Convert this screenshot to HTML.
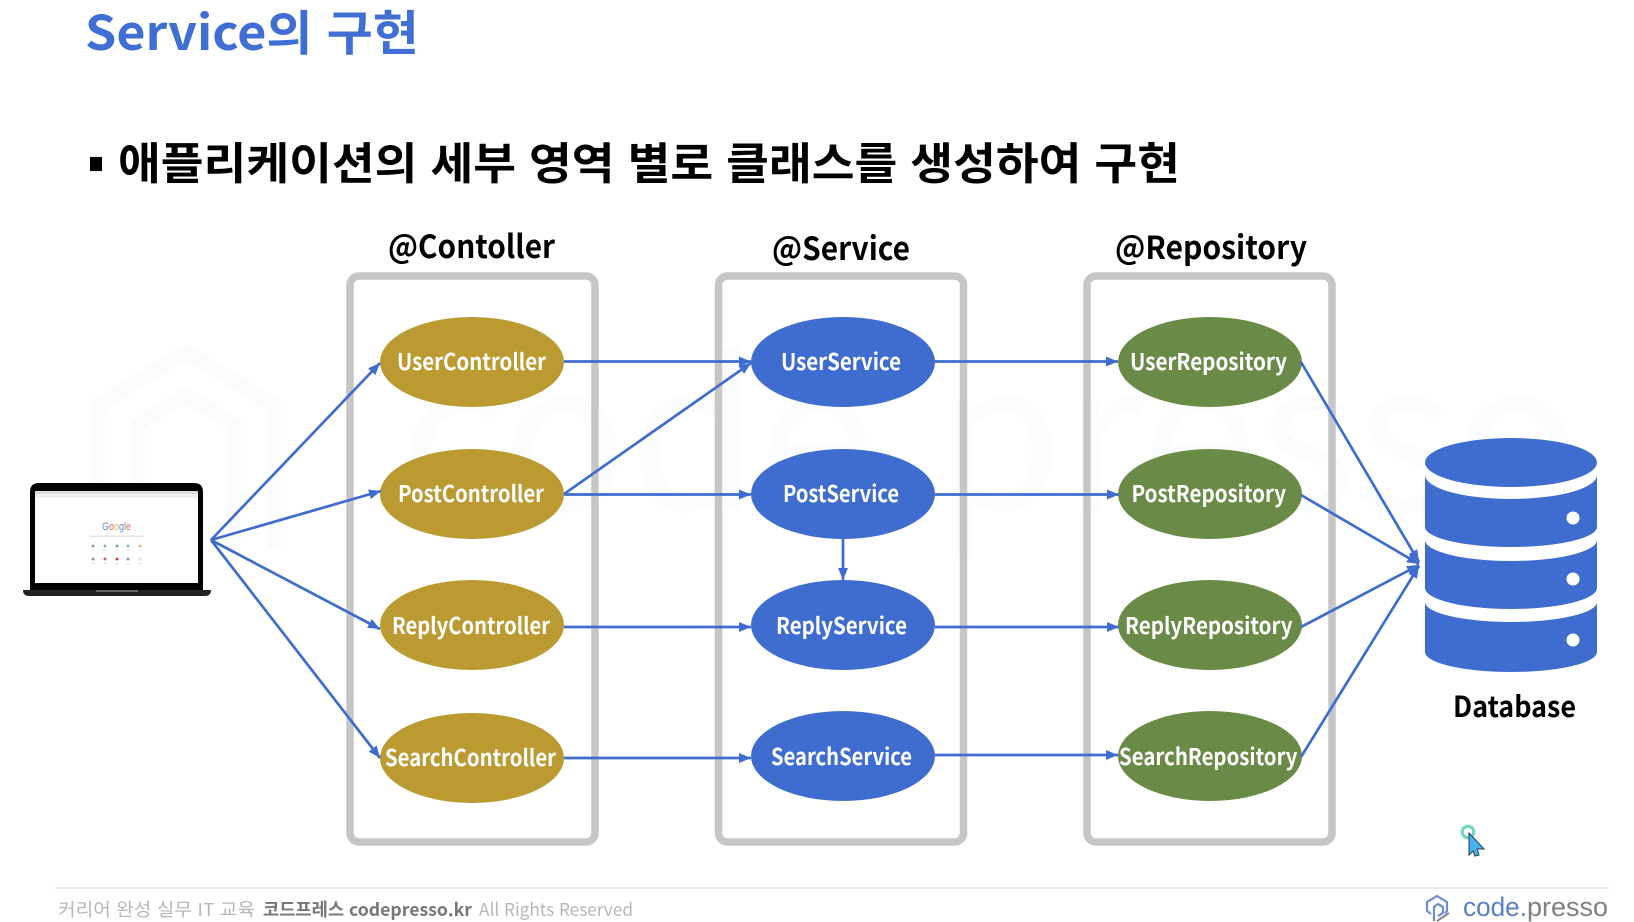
<!DOCTYPE html>
<html lang="ko">
<head>
<meta charset="utf-8">
<title>Service의 구현</title>
<style>
html,body{margin:0;padding:0;background:#fff;width:1634px;height:922px;overflow:hidden}
svg{display:block;filter:blur(0.35px)}
text{font-family:"Noto Sans CJK KR","Liberation Sans",sans-serif}
.b{font-weight:700}
.n{font-weight:700;font-size:23px;fill:#fff}
.h{font-weight:700;font-size:32px;fill:#000}
.l{font-family:"Liberation Sans",sans-serif;font-size:27px}
</style>
</head>
<body>
<svg width="1634" height="922" viewBox="0 0 1634 922" xmlns="http://www.w3.org/2000/svg">
<defs>
<marker id="a" markerUnits="userSpaceOnUse" markerWidth="14" markerHeight="12" refX="12" refY="5" orient="auto">
<path d="M0 0L12 5L0 10z" fill="#3f6dcf"/>
</marker>
</defs>
<rect width="1634" height="922" fill="#fff"/>

<!-- watermark -->
<g fill="none" stroke="#fafbfd" stroke-width="14">
<path d="M98 548V405L186 352L274 405V548"/>
<path d="M138 540V425L186 395L234 425V540"/>
</g>
<text x="400" y="510" font-size="205" fill="#fbfcfd" textLength="1180" lengthAdjust="spacingAndGlyphs">code presso</text>

<!-- title -->
<text class="b" x="85" y="50" font-size="48" fill="#3f6fd4" textLength="334" lengthAdjust="spacingAndGlyphs">Service의 구현</text>
<rect x="90" y="157" width="12" height="14" fill="#000"/>
<text class="b" x="118" y="179" font-size="44" fill="#000" textLength="1062" lengthAdjust="spacingAndGlyphs">애플리케이션의 세부 영역 별로 클래스를 생성하여 구현</text>

<!-- column titles -->
<text class="h" x="388" y="258" textLength="167" lengthAdjust="spacingAndGlyphs">@Contoller</text>
<text class="h" x="772" y="260" textLength="138" lengthAdjust="spacingAndGlyphs">@Service</text>
<text class="h" x="1115" y="259" textLength="192" lengthAdjust="spacingAndGlyphs">@Repository</text>

<!-- frames -->
<g fill="none" stroke="#c6c6c6" stroke-width="7.5">
<rect x="350" y="276" width="245" height="566" rx="9"/>
<rect x="718.5" y="276" width="245" height="566" rx="9"/>
<rect x="1087" y="276" width="245" height="566" rx="9"/>
</g>

<!-- ellipses -->
<g fill="#bc9a32">
<ellipse cx="472" cy="362" rx="92" ry="45"/>
<ellipse cx="472" cy="494" rx="92" ry="45"/>
<ellipse cx="472" cy="625" rx="92" ry="45"/>
<ellipse cx="472" cy="758" rx="92" ry="45"/>
</g>
<g fill="#3f6dcf">
<ellipse cx="843" cy="362" rx="92" ry="45"/>
<ellipse cx="843" cy="494" rx="92" ry="45"/>
<ellipse cx="843" cy="625" rx="92" ry="45"/>
<ellipse cx="843" cy="756" rx="92" ry="45"/>
</g>
<g fill="#6a8b47">
<ellipse cx="1210" cy="362" rx="92" ry="45"/>
<ellipse cx="1210" cy="494" rx="92" ry="45"/>
<ellipse cx="1210" cy="625" rx="92" ry="45"/>
<ellipse cx="1210" cy="756" rx="92" ry="45"/>
</g>

<!-- connectors -->
<g stroke="#3f6dcf" stroke-width="2.7" fill="none">
<line x1="211" y1="540" x2="380" y2="363" marker-end="url(#a)"/>
<line x1="211" y1="540" x2="381" y2="491" marker-end="url(#a)"/>
<line x1="211" y1="540" x2="380" y2="629" marker-end="url(#a)"/>
<line x1="211" y1="540" x2="380" y2="758" marker-end="url(#a)"/>
<line x1="564" y1="361.5" x2="751" y2="361.5" marker-end="url(#a)"/>
<line x1="564" y1="494" x2="751" y2="363" marker-end="url(#a)"/>
<line x1="564" y1="494.5" x2="751" y2="494.5" marker-end="url(#a)"/>
<line x1="564" y1="627" x2="751" y2="627" marker-end="url(#a)"/>
<line x1="564" y1="758" x2="751" y2="758" marker-end="url(#a)"/>
<line x1="935" y1="361.5" x2="1118" y2="361.5" marker-end="url(#a)"/>
<line x1="935" y1="494.5" x2="1119" y2="494.5" marker-end="url(#a)"/>
<line x1="935" y1="627" x2="1119" y2="627" marker-end="url(#a)"/>
<line x1="935" y1="755" x2="1118" y2="755" marker-end="url(#a)"/>
<line x1="843" y1="538" x2="843" y2="580" marker-end="url(#a)"/>
<line x1="1301" y1="362" x2="1419" y2="562" marker-end="url(#a)"/>
<line x1="1301" y1="495" x2="1419" y2="564" marker-end="url(#a)"/>
<line x1="1301" y1="627" x2="1419" y2="565" marker-end="url(#a)"/>
<line x1="1301" y1="757" x2="1419" y2="566" marker-end="url(#a)"/>
</g>

<!-- node labels -->
<text class="n" x="397" y="370" textLength="149" lengthAdjust="spacingAndGlyphs">UserController</text>
<text class="n" x="398" y="502" textLength="146" lengthAdjust="spacingAndGlyphs">PostController</text>
<text class="n" x="392" y="634" textLength="158" lengthAdjust="spacingAndGlyphs">ReplyController</text>
<text class="n" x="385" y="766" textLength="171" lengthAdjust="spacingAndGlyphs">SearchController</text>
<text class="n" x="781" y="370" textLength="120" lengthAdjust="spacingAndGlyphs">UserService</text>
<text class="n" x="783" y="502" textLength="116" lengthAdjust="spacingAndGlyphs">PostService</text>
<text class="n" x="776" y="634" textLength="131" lengthAdjust="spacingAndGlyphs">ReplyService</text>
<text class="n" x="771" y="765" textLength="141" lengthAdjust="spacingAndGlyphs">SearchService</text>
<text class="n" x="1130" y="370" textLength="157" lengthAdjust="spacingAndGlyphs">UserRepository</text>
<text class="n" x="1131.5" y="502" textLength="154.5" lengthAdjust="spacingAndGlyphs">PostRepository</text>
<text class="n" x="1125" y="634" textLength="167.5" lengthAdjust="spacingAndGlyphs">ReplyRepository</text>
<text class="n" x="1119" y="765" textLength="178.5" lengthAdjust="spacingAndGlyphs">SearchRepository</text>

<!-- database -->
<g fill="#3f6dcf">
<ellipse cx="1511" cy="462.5" rx="86" ry="24.5"/>
<path d="M1425 475A86 24 0 0 0 1597 475V527A86 20 0 0 1 1425 527Z"/>
<path d="M1425 540A86 21 0 0 0 1597 540V588A86 21 0 0 1 1425 588Z"/>
<path d="M1425 602A86 20 0 0 0 1597 602V652A86 20 0 0 1 1425 652Z"/>
</g>
<g fill="#fff">
<circle cx="1573" cy="518" r="6.5"/>
<circle cx="1573" cy="579" r="6.5"/>
<circle cx="1573" cy="640" r="6.5"/>
</g>
<text class="b" x="1453" y="717" font-size="29" fill="#000" textLength="123" lengthAdjust="spacingAndGlyphs">Database</text>

<!-- laptop -->
<path d="M30 591V492Q30 483 39 483H194Q203 483 203 492V591Z" fill="#000"/>
<path d="M23 590H211Q211 596 205 596H29Q23 596 23 590Z" fill="#222"/>
<rect x="96" y="590" width="42" height="2" fill="#666"/>
<rect x="35" y="491" width="163" height="92" fill="#fff"/>
<rect x="35" y="491" width="163" height="3" fill="#dcdcdc"/>
<rect x="35" y="494" width="163" height="4" fill="#f1f1f1"/>
<text x="102" y="530" font-size="11" textLength="29" lengthAdjust="spacingAndGlyphs" style="font-family:'Liberation Sans',sans-serif"><tspan fill="#5f8ad8">G</tspan><tspan fill="#d9665a">o</tspan><tspan fill="#e3b94f">o</tspan><tspan fill="#5f8ad8">g</tspan><tspan fill="#62a86c">l</tspan><tspan fill="#d9665a">e</tspan></text>
<rect x="90" y="535.5" width="53" height="1.5" fill="#e4e4e4"/>
<g>
<circle cx="93" cy="546" r="1.5" fill="#8aa88a"/><circle cx="105" cy="546" r="1.5" fill="#8ab4c8"/><circle cx="117" cy="546" r="1.5" fill="#8aa88a"/><circle cx="128" cy="546" r="1.5" fill="#8ac0a0"/><circle cx="140" cy="546" r="1.5" fill="#e0c060"/>
<circle cx="93" cy="559" r="1.5" fill="#b08a8a"/><circle cx="105" cy="559" r="1.5" fill="#d06060"/><circle cx="117" cy="559" r="1.5" fill="#c84040"/><circle cx="128" cy="559" r="1.5" fill="#8aa0b0"/><circle cx="140" cy="559" r="1.5" fill="#e4e4e4"/>
</g>
<g fill="#e2e2e2">
<rect x="91" y="550" width="4" height="1"/><rect x="103" y="550" width="4" height="1"/><rect x="115" y="550" width="4" height="1"/><rect x="126" y="550" width="4" height="1"/><rect x="138" y="550" width="4" height="1"/>
<rect x="91" y="563" width="4" height="1"/><rect x="103" y="563" width="4" height="1"/><rect x="115" y="563" width="4" height="1"/><rect x="126" y="563" width="4" height="1"/><rect x="138" y="563" width="4" height="1"/>
</g>

<!-- footer -->
<line x1="55" y1="888" x2="1609" y2="888" stroke="#e6e6e6" stroke-width="1.5"/>
<text x="58" y="916" font-size="18" fill="#b8b8b8" textLength="197" lengthAdjust="spacingAndGlyphs">커리어 완성 실무 IT 교육</text>
<text class="b" x="263" y="916" font-size="18" fill="#777" textLength="209" lengthAdjust="spacingAndGlyphs">코드프레스 codepresso.kr</text>
<text x="479" y="916" font-size="18" fill="#b8b8b8" textLength="154" lengthAdjust="spacingAndGlyphs">All Rights Reserved</text>
<g fill="none" stroke-width="2.2">
<path d="M1431 914L1427 911V902L1437 896L1447 902V911L1445 913" stroke="#6d8fcc"/>
<path d="M1434 921V907L1438 904L1443 907V913L1438 916" stroke="#6d8fcc"/>
<path d="M1437 921L1449 913" stroke="#8a8a8a"/>
</g>
<text class="l" x="1463" y="916" fill="#5a80c4" textLength="64" lengthAdjust="spacingAndGlyphs">code.</text>
<text class="l" x="1527" y="916" fill="#808080" textLength="81" lengthAdjust="spacingAndGlyphs">presso</text>

<!-- cursor -->
<circle cx="1468" cy="832" r="8" fill="#bdeedd"/>
<circle cx="1468" cy="832" r="5.5" fill="#fff" stroke="#6fd3b4" stroke-width="2.5"/>
<path d="M1469 833L1484 849L1477 849L1479 855L1475 856L1473 851L1469 855Z" fill="#4ab2ec" stroke="#1d3e5c" stroke-width="1"/>
</svg>
</body>
</html>
